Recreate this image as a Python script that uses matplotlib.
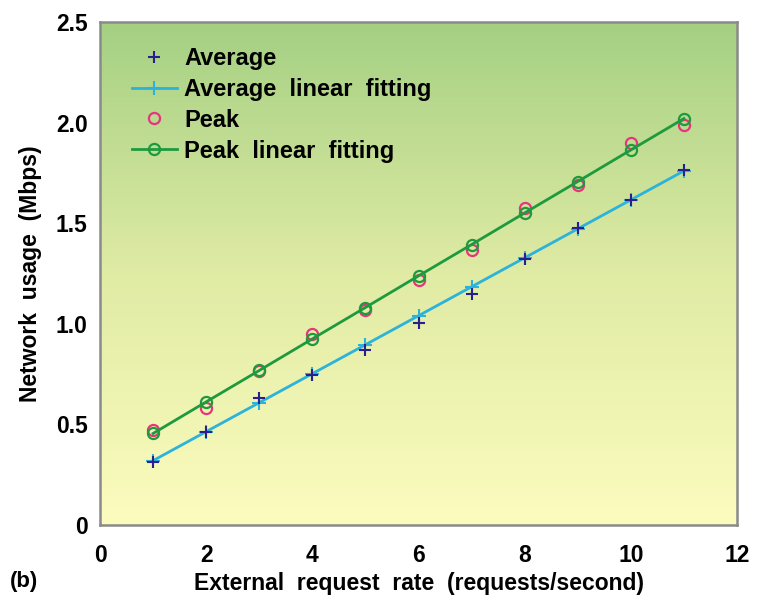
import numpy as np
import matplotlib
matplotlib.use("Agg")
import matplotlib.pyplot as plt
from matplotlib.colors import LinearSegmentedColormap

# ---- data ----
x_vals = [1, 2, 3, 4, 5, 6, 7, 8, 9, 10, 11]
avg_vals = [0.313, 0.462, 0.63, 0.745, 0.87, 1.004, 1.148, 1.32, 1.474, 1.616, 1.764]
avg_fit = [0.32, 0.464, 0.608, 0.752, 0.896, 1.04, 1.184, 1.328, 1.472, 1.616, 1.76]
peak_vals = [0.472, 0.58, 0.765, 0.95, 1.07, 1.22, 1.367, 1.575, 1.69, 1.898, 1.99]
peak_fit = [0.455, 0.612, 0.768, 0.925, 1.081, 1.238, 1.394, 1.551, 1.707, 1.864, 2.02]
xticks = [0, 2, 4, 6, 8, 10, 12]
yticks = [0, 0.5, 1.0, 1.5, 2.0, 2.5]
ytick_labels = ["0", "0.5", "1.0", "1.5", "2.0", "2.5"]

plt.rcParams['font.family'] = ['Liberation Sans', 'DejaVu Sans']
plt.rcParams['font.weight'] = 'bold'

fig = plt.figure(figsize=(7.57, 6.05), dpi=100)
ax = fig.add_axes([100/757, 80/605, 637/757, 503/605])

# gradient background
cmap = LinearSegmentedColormap.from_list("bg", ["#FCFCBE", "#E0EBA4", "#A4D083"])
grad = np.linspace(0, 1, 256).reshape(-1, 1)
ax.imshow(grad, aspect='auto', cmap=cmap, origin='lower',
          extent=[0, 12, 0, 2.5], zorder=0)

ax.plot(x_vals, avg_vals, linestyle='none', marker='+', color='#2A1F8F',
        markersize=9, markeredgewidth=1.5, label='Average', zorder=4)
ax.plot(x_vals, avg_fit, color='#2BB3DA', linewidth=2, marker='+',
        markersize=10, markeredgewidth=1.5, label='Average  linear  fitting', zorder=3)
ax.plot(x_vals, peak_vals, linestyle='none', marker='o', markerfacecolor='none',
        markeredgecolor='#E8347F', markersize=8, markeredgewidth=1.6, label='Peak', zorder=3)
ax.plot(x_vals, peak_fit, color='#1E9A3E', linewidth=2, marker='o',
        markerfacecolor='none', markeredgecolor='#1E9A3E', markersize=8,
        markeredgewidth=1.6, label='Peak  linear  fitting', zorder=4)

ax.set_xlim(0, 12)
ax.set_ylim(0, 2.5)
ax.set_xticks(xticks)
ax.set_yticks(yticks)
ax.set_yticklabels(ytick_labels)
ax.tick_params(axis='both', length=0, labelsize=16.5)
ax.tick_params(axis='x', pad=14)
ax.tick_params(axis='y', pad=9)
for lab in ax.get_xticklabels() + ax.get_yticklabels():
    lab.set_fontweight('bold')
for s in ax.spines.values():
    s.set_color('#8A8A8A')
    s.set_linewidth(1.8)

ax.set_xlabel('External  request  rate  (requests/second)', fontsize=16.5,
              fontweight='bold', labelpad=3)
ax.set_ylabel('Network  usage  (Mbps)', fontsize=16.5, fontweight='bold', labelpad=10)

leg = ax.legend(loc='upper left', bbox_to_anchor=(32/637, 0.95), frameon=False,
                fontsize=17, handlelength=1.9, handletextpad=0.3, labelspacing=0.33,
                borderpad=0, borderaxespad=0)
for t in leg.get_texts():
    t.set_fontweight('bold')

fig.text(10/757, 1 - 582/605, '(b)', fontsize=16, fontweight='bold', va='center', ha='left')

fig.savefig('out.png', dpi=100)
